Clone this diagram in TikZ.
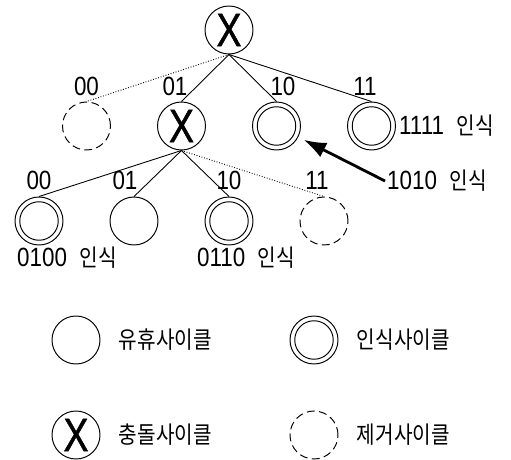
\documentclass[tikz,border=0pt]{standalone}
\usepackage{graphicx}
\usepackage{fontspec}
\setmainfont{Liberation Sans}
\newfontfamily\kr{Noto Sans CJK KR}[Scale=0.9]
\newfontfamily\xfont{Liberation Sans}[FakeBold=1.2]
\usetikzlibrary{positioning,arrows.meta}
\newcommand{\nar}[2][0.85]{\scalebox{#1}[1]{#2}}
\tikzset{cyc/.style={circle,draw,line width=0.55pt,minimum size=0.96cm,inner sep=0pt},
         idle/.style={cyc},
         recog/.style={cyc,path picture={\draw[line width=0.55pt] (path picture bounding box.center) circle (0.385cm);}},
         coll/.style={cyc,font=\fontsize{26.5}{26.5}\selectfont\xfont},
         gone/.style={cyc,dash pattern=on 4.5pt off 2.5pt},
         lbl/.style={font=\fontsize{15}{15}\selectfont,inner sep=1pt},
         leg/.style={font=\fontsize{15}{15}\selectfont\kr,inner sep=0pt},
         pointer/.style={line width=1.6pt,-{Latex[length=4.5mm,width=3.2mm]}}
}

\begin{document}
\begin{tikzpicture}[line width=0.5pt]
\useasboundingbox (-4.58,0.6) rectangle (5.64,-8.58);

% tree
\node[coll] (root) at (0,0) {\nar[0.8]{X}};
\node[gone] (n00) at (-2.85,-1.92) {};
\node[coll] (n01) at (-0.95,-1.92) {\nar[0.8]{X}};
\node[recog] (n10) at (0.95,-1.92) {};
\node[recog] (n11) at (2.85,-1.92) {};
\node[recog] (m00) at (-3.8,-3.82) {};
\node[idle] (m01) at (-1.9,-3.82) {};
\node[recog] (m10) at (0,-3.82) {};
\node[gone] (m11) at (1.9,-3.82) {};
\draw[densely dotted] (root.south)--(n00.north);
\draw (root.south)--(n01.north);
\draw (root.south)--(n10.north);
\draw (root.south)--(n11.north);
\draw (n01.south)--(m00.north);
\draw (n01.south)--(m01.north);
\draw (n01.south)--(m10.north);
\draw[densely dotted] (n01.south)--(m11.north);

% slot labels
\node[lbl,above=0.08cm of n00] (l00) {\nar{00}};
\node[lbl,above=0.08cm of n01,xshift=-0.13cm] (l01) {\nar{01}};
\node[lbl,above=0.08cm of n10,xshift=0.13cm] (l10) {\nar{10}};
\node[lbl,above=0.08cm of n11,xshift=-0.13cm] (l11) {\nar{11}};
\node[lbl,above=0.1cm of m00] (k00) {\nar{00}};
\node[lbl,above=0.1cm of m01,xshift=-0.18cm] (k01) {\nar{01}};
\node[lbl,above=0.1cm of m10] (k10) {\nar{10}};
\node[lbl,above=0.1cm of m11,xshift=-0.14cm] (k11) {\nar{11}};

% recognised ids
\node[lbl,right=0.02cm of n11] (t1111) {\nar{1111~~{\kr 인식}}};
\node[lbl,anchor=west] (t1010) at (3.12,-3.02) {\nar{1010~~{\kr 인식}}};
\node[lbl,anchor=west] (t0100) at (-4.28,-4.56) {\nar{0100~~{\kr 인식}}};
\node[lbl,anchor=west] (t0110) at (-0.68,-4.56) {\nar{0110~~{\kr 인식}}};
\draw[pointer,shorten >=1.2mm] (t1010.west)--(n10);

% legend
\node[idle] (gidle) at (-3.06,-6.2) {};
\node[leg,right=0.36cm of gidle] (tidle) {\nar{유휴사이클}};
\node[recog] (grecog) at (1.7,-6.2) {};
\node[leg,right=0.36cm of grecog] (trecog) {\nar{인식사이클}};
\node[coll] (gcoll) at (-3.06,-8.1) {\nar[0.8]{X}};
\node[leg,right=0.36cm of gcoll] (tcoll) {\nar{충돌사이클}};
\node[gone] (ggone) at (1.7,-8.1) {};
\node[leg,right=0.36cm of ggone] (tgone) {\nar{제거사이클}};
\end{tikzpicture}
\end{document}
